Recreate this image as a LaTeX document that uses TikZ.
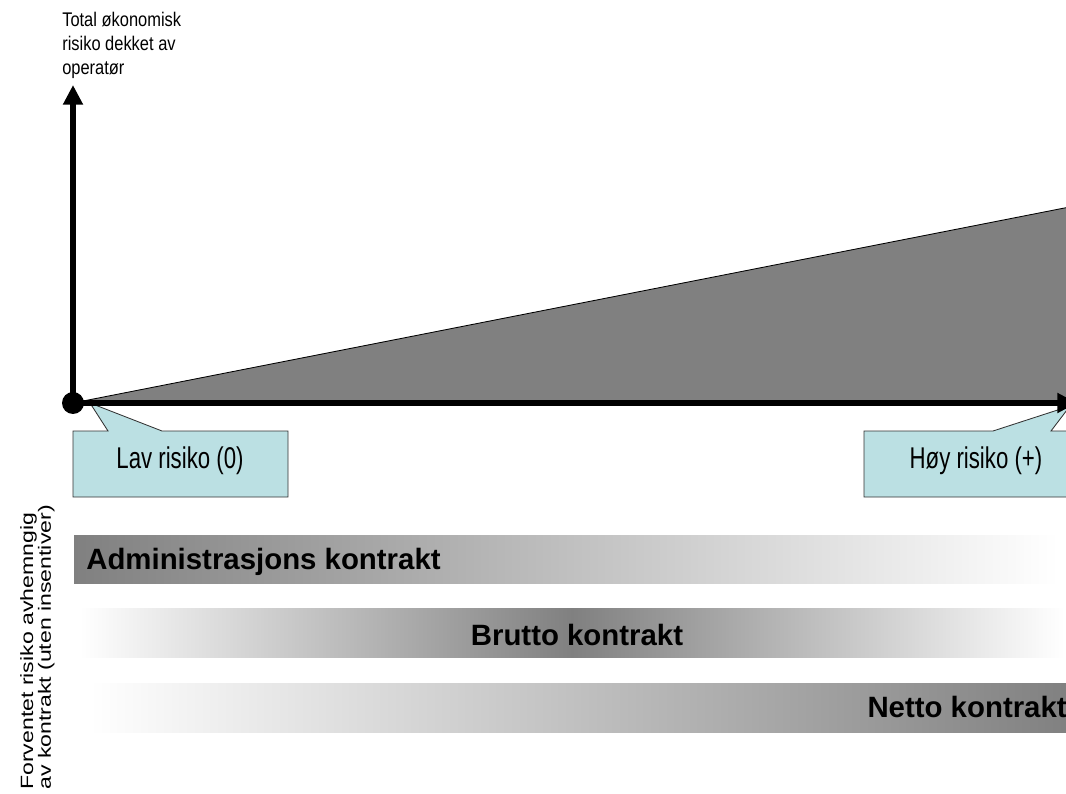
\documentclass[tikz,border=0pt]{standalone}
\usepackage{fontspec}
\setmainfont{Liberation Sans}
\usetikzlibrary{arrows.meta}

\definecolor{calloutblue}{RGB}{187,224,227}
\definecolor{riskgray}{RGB}{128,128,128}
\newcommand{\vstretch}[2]{\scalebox{1}[#1]{#2}}

\tikzset{
  axis/.style={line width=3.9pt, -{Triangle[length=14pt,width=13.5pt]}},
  callout/.style={draw=black!80, line width=0.6pt, fill=calloutblue},
  barlabel/.style={inner sep=0pt, font=\fontsize{20.9}{25}\selectfont\bfseries},
  calloutlabel/.style={inner sep=0pt, font=\fontsize{15.8}{19}\selectfont}
}

\begin{document}
\begin{tikzpicture}[x=0.025cm, y=-0.025cm]
    \useasboundingbox (0,0) rectangle (1066,794);
    \clip (0,0) rectangle (1066,794);

    \coordinate (origin) at (73,403);
    \coordinate (ytip) at (73,85);
    \coordinate (xtip) at (1077,403);

    % risk wedge
    \draw [fill = riskgray, line width = 0.6pt] (origin) -- (1100,201) -- (1100,403) -- cycle;

    % callouts
    \draw [callout] (73,431) -- (108,431) -- (90,403) -- (162,431) -- (288,431)
        -- (288,497) -- (73,497) -- cycle;
    \node [calloutlabel, anchor = base] (lowrisk) at (180,468) {\vstretch{1.35}{Lav risiko (0)}};
    \draw [callout] (864,431) -- (993,431) -- (1070,406) -- (1051,431) -- (1085,431)
        -- (1085,497) -- (864,497) -- cycle;
    \node [calloutlabel, anchor = base] (highrisk) at (976,468) {\vstretch{1.35}{Høy risiko (+)}};

    % axes
    \draw [axis] (origin) -- (ytip);
    \draw [axis] (origin) -- (xtip);
    \fill (origin) circle (7.8pt);

    \node [anchor = base west, inner sep = 0pt, font = \fontsize{11.7}{14.2}\selectfont] (ytitle) at (62,27)
        {\vstretch{1.2}{\begin{tabular}[t]{@{}l@{}}Total økonomisk\\risiko dekket av\\operatør\end{tabular}}};

    % contract bars
    \shade [left color = riskgray, right color = white] (74,535) rectangle (1058,583);
    \node [barlabel, anchor = base west] (admin) at (86,569) {Administrasjons kontrakt};
    \shade [left color = white, right color = white, middle color = riskgray] (80,608) rectangle (1064,657);
    \node [barlabel, anchor = base] (brutto) at (577,645) {Brutto kontrakt};
    \shade [left color = white, right color = riskgray] (90,683) rectangle (1072,732);
    \node [barlabel, anchor = base east] (netto) at (1067,717) {Netto kontrakt};

    \node [rotate = 90, anchor = base west, inner sep = 0pt, font = \fontsize{16.4}{15.7}\selectfont] (xtitle) at (33,790)
        {\vstretch{0.77}{\begin{tabular}[t]{@{}l@{}}Forventet risiko avhemngig\\av kontrakt (uten insentiver)\end{tabular}}};
    \end{tikzpicture}
\end{document}
